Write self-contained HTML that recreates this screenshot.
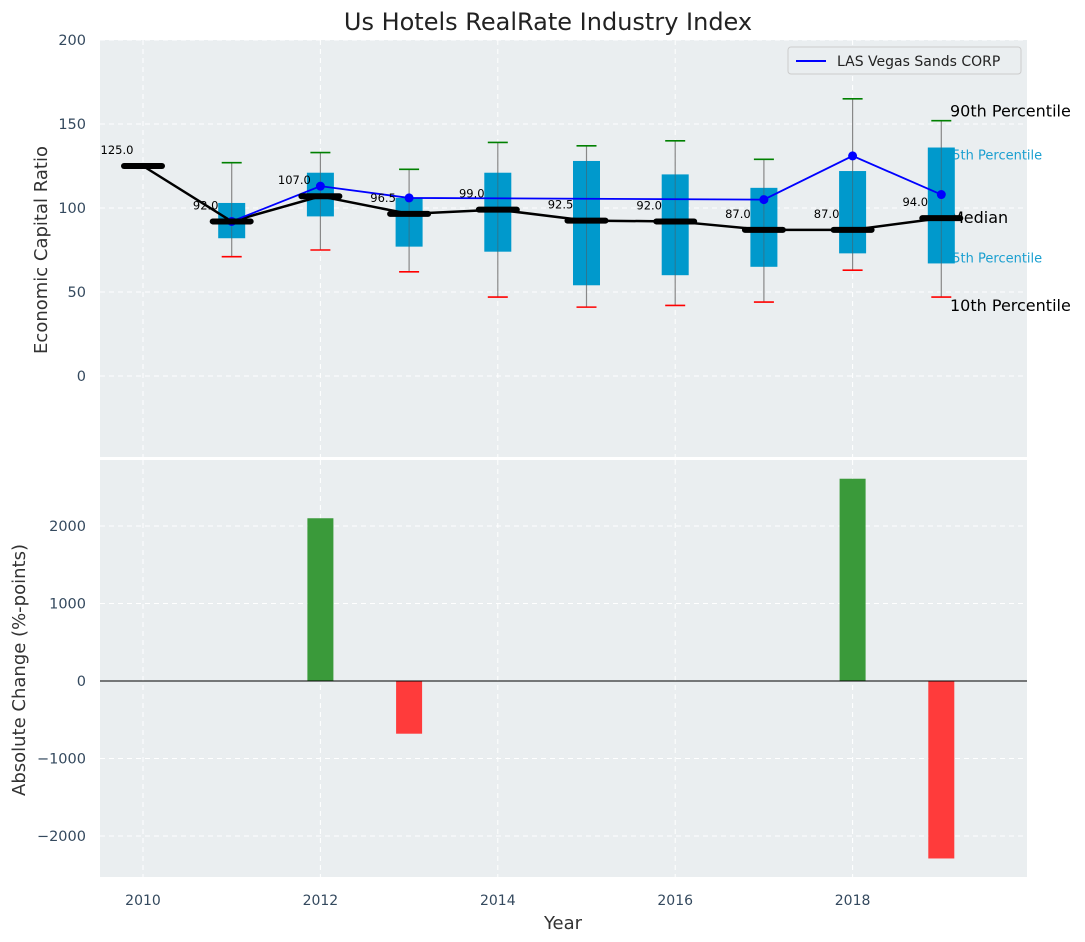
<!DOCTYPE html>
<html><head><meta charset="utf-8"><style>
body{margin:0;background:#fff;font-family:"Liberation Sans","DejaVu Sans",sans-serif}
svg{display:block}
</style></head><body>
<svg id="chart" width="1085" height="942" xmlns="http://www.w3.org/2000/svg"
 font-family="DejaVu Sans, Liberation Sans, sans-serif">
<text x="548" y="30" font-size="24" text-anchor="middle" fill="#222">Us Hotels RealRate Industry Index</text>
<rect x="100" y="40" width="927" height="417" fill="#eaeef0"/>
<rect x="100" y="460" width="927" height="417" fill="#eaeef0"/>
<g id="topG"></g><g id="botG"></g>
<text x="47" y="250" font-size="18" fill="#333" text-anchor="middle" transform="rotate(-90 47 250)">Economic Capital Ratio</text>
<text x="25" y="670" font-size="18" fill="#333" text-anchor="middle" transform="rotate(-90 25 670)">Absolute Change (%-points)</text>
<text x="563" y="929" font-size="18" fill="#333" text-anchor="middle">Year</text>
<g>
<rect x="788" y="47" width="233" height="27" rx="3" fill="#eaeef0" stroke="#ccc"/>
<line x1="796" y1="61" x2="826" y2="61" stroke="blue" stroke-width="2"/>
<text x="837" y="66" font-size="14" fill="#222">LAS Vegas Sands CORP</text>
</g>
</svg>
<script>
const years=[2010,2011,2012,2013,2014,2015,2016,2017,2018,2019];
const medians=[125,92,107,96.5,99,92.5,92,87,87,94];
const boxYears=[2011,2012,2013,2014,2015,2016,2017,2018,2019];
const q1=[82,95,77,74,54,60,65,73,67];
const q3=[103,121,106,121,128,120,112,122,136];
const p90=[127,133,123,139,137,140,129,165,152];
const p10=[71,75,62,47,41,42,44,63,47];
const lvsYears=[2011,2012,2013,2017,2018,2019];
const lvsValues=[92,113,106,105,131,108];
const changeYears=[2012,2013,2018,2019];
const changeValues=[2100,-680,2610,-2290];
const topTicks=[0,50,100,150,200];
const botTicks=[-2000,-1000,0,1000,2000];
const xTicks=[2010,2012,2014,2016,2018];

const NS="http://www.w3.org/2000/svg";
const X=v=>143+(v-2010)*88.7;
const Y1=v=>376-v*1.68;
const Y2=v=>681-v*0.0775;
function mk(p,t,a){const e=document.createElementNS(NS,t);for(const k in a)e.setAttribute(k,a[k]);p.appendChild(e);return e;}
const topG=document.getElementById('topG'),botG=document.getElementById('botG');
xTicks.forEach(t=>{
 let g=mk(topG,'line',{x1:X(t),x2:X(t),y1:40,y2:457,stroke:'#fff','stroke-dasharray':'5,4'});
 
 
 let g2=mk(botG,'line',{x1:X(t),x2:X(t),y1:460,y2:877,stroke:'#fff','stroke-dasharray':'5,4'});
 
 
 let l=mk(botG,'text',{x:X(t),y:905,'font-size':14,'text-anchor':'middle',fill:'#34495e'});l.textContent=t;
 
 
});
topTicks.forEach(t=>{
 let g=mk(topG,'line',{x1:100,x2:1027,y1:Y1(t),y2:Y1(t),stroke:'#fff','stroke-dasharray':'5,4'});
 
 
 let l=mk(topG,'text',{x:86,y:Y1(t)+5,'font-size':14.5,'text-anchor':'end',fill:'#34495e'});l.textContent=t;
 
 
});
botTicks.forEach(t=>{
 let g=mk(botG,'line',{x1:100,x2:1027,y1:Y2(t),y2:Y2(t),stroke:'#fff','stroke-dasharray':'5,4'});
 
 
 let l=mk(botG,'text',{x:86,y:Y2(t)+5,'font-size':14.5,'text-anchor':'end',fill:'#34495e'});l.textContent=(t<0?'\u2212'+(-t):t);
 
 
});
const last=boxYears.length-1;
[['90th Percentile',p90[last],16,'#000',950,-4],['75th Percentile',q3[last],13,'#1a9fd0',944,12],['Median',medians[medians.length-1],16,'#000',950,5],['25th Percentile',q1[last],13,'#1a9fd0',944,-1],['10th Percentile',p10[last],16,'#000',950,14]].forEach(a=>{
 let t=mk(topG,'text',{x:a[4],y:Y1(a[1])+a[5],'font-size':a[2],fill:a[3]});t.textContent=a[0];
 
 
});
boxYears.forEach((yr,i)=>{
 const x=X(yr);
 let w=mk(topG,'line',{x1:x,x2:x,y1:Y1(p90[i]),y2:Y1(p10[i]),stroke:'#888','stroke-width':1.2});
 
 
 let b=mk(topG,'rect',{x:x-13.5,y:Y1(q3[i]),width:27,height:Y1(q1[i])-Y1(q3[i]),fill:'#0099cc'});
 
 
 mk(topG,'line',{x1:x,x2:x,y1:Y1(q3[i]),y2:Y1(q1[i]),stroke:'#555','stroke-width':1,'stroke-opacity':0.5});
 let c1=mk(topG,'line',{x1:x-10,x2:x+10,y1:Y1(p90[i]),y2:Y1(p90[i]),stroke:'green','stroke-width':1.6});
 
 
 let c2=mk(topG,'line',{x1:x-10,x2:x+10,y1:Y1(p10[i]),y2:Y1(p10[i]),stroke:'red','stroke-width':1.6});
 
 
});
let mp=mk(topG,'polyline',{points:years.map((y,i)=>X(y)+','+Y1(medians[i])).join(' '),fill:'none',stroke:'#000','stroke-width':2.5});


let lp=mk(topG,'polyline',{points:lvsYears.map((y,i)=>X(y)+','+Y1(lvsValues[i])).join(' '),fill:'none',stroke:'blue','stroke-width':1.8});


lvsYears.forEach((y,i)=>{
 let c=mk(topG,'circle',{cx:X(y),cy:Y1(lvsValues[i]),r:4.5,fill:'blue'});
 
 
});
years.forEach((y,i)=>{
 let m=mk(topG,'line',{x1:X(y)-19,x2:X(y)+19,y1:Y1(medians[i]),y2:Y1(medians[i]),stroke:'#000','stroke-width':6,'stroke-linecap':'round'});
 
 
 let t=mk(topG,'text',{x:X(y)-26,y:Y1(medians[i])-12,'font-size':11.5,'text-anchor':'middle',fill:'#000'});t.textContent=medians[i].toFixed(1);
 
 
});
changeYears.forEach((y,i)=>{
 const v=changeValues[i];
 let r=mk(botG,'rect',{x:X(y)-13,y:Math.min(Y2(v),Y2(0)),width:26,height:Math.abs(Y2(v)-Y2(0)),fill:v>=0?'#3a9a3a':'#ff3b3b'});
 
 
});
let z=mk(botG,'line',{x1:100,x2:1027,y1:Y2(0),y2:Y2(0),stroke:'#000','stroke-width':1});


</script>
</body></html>
